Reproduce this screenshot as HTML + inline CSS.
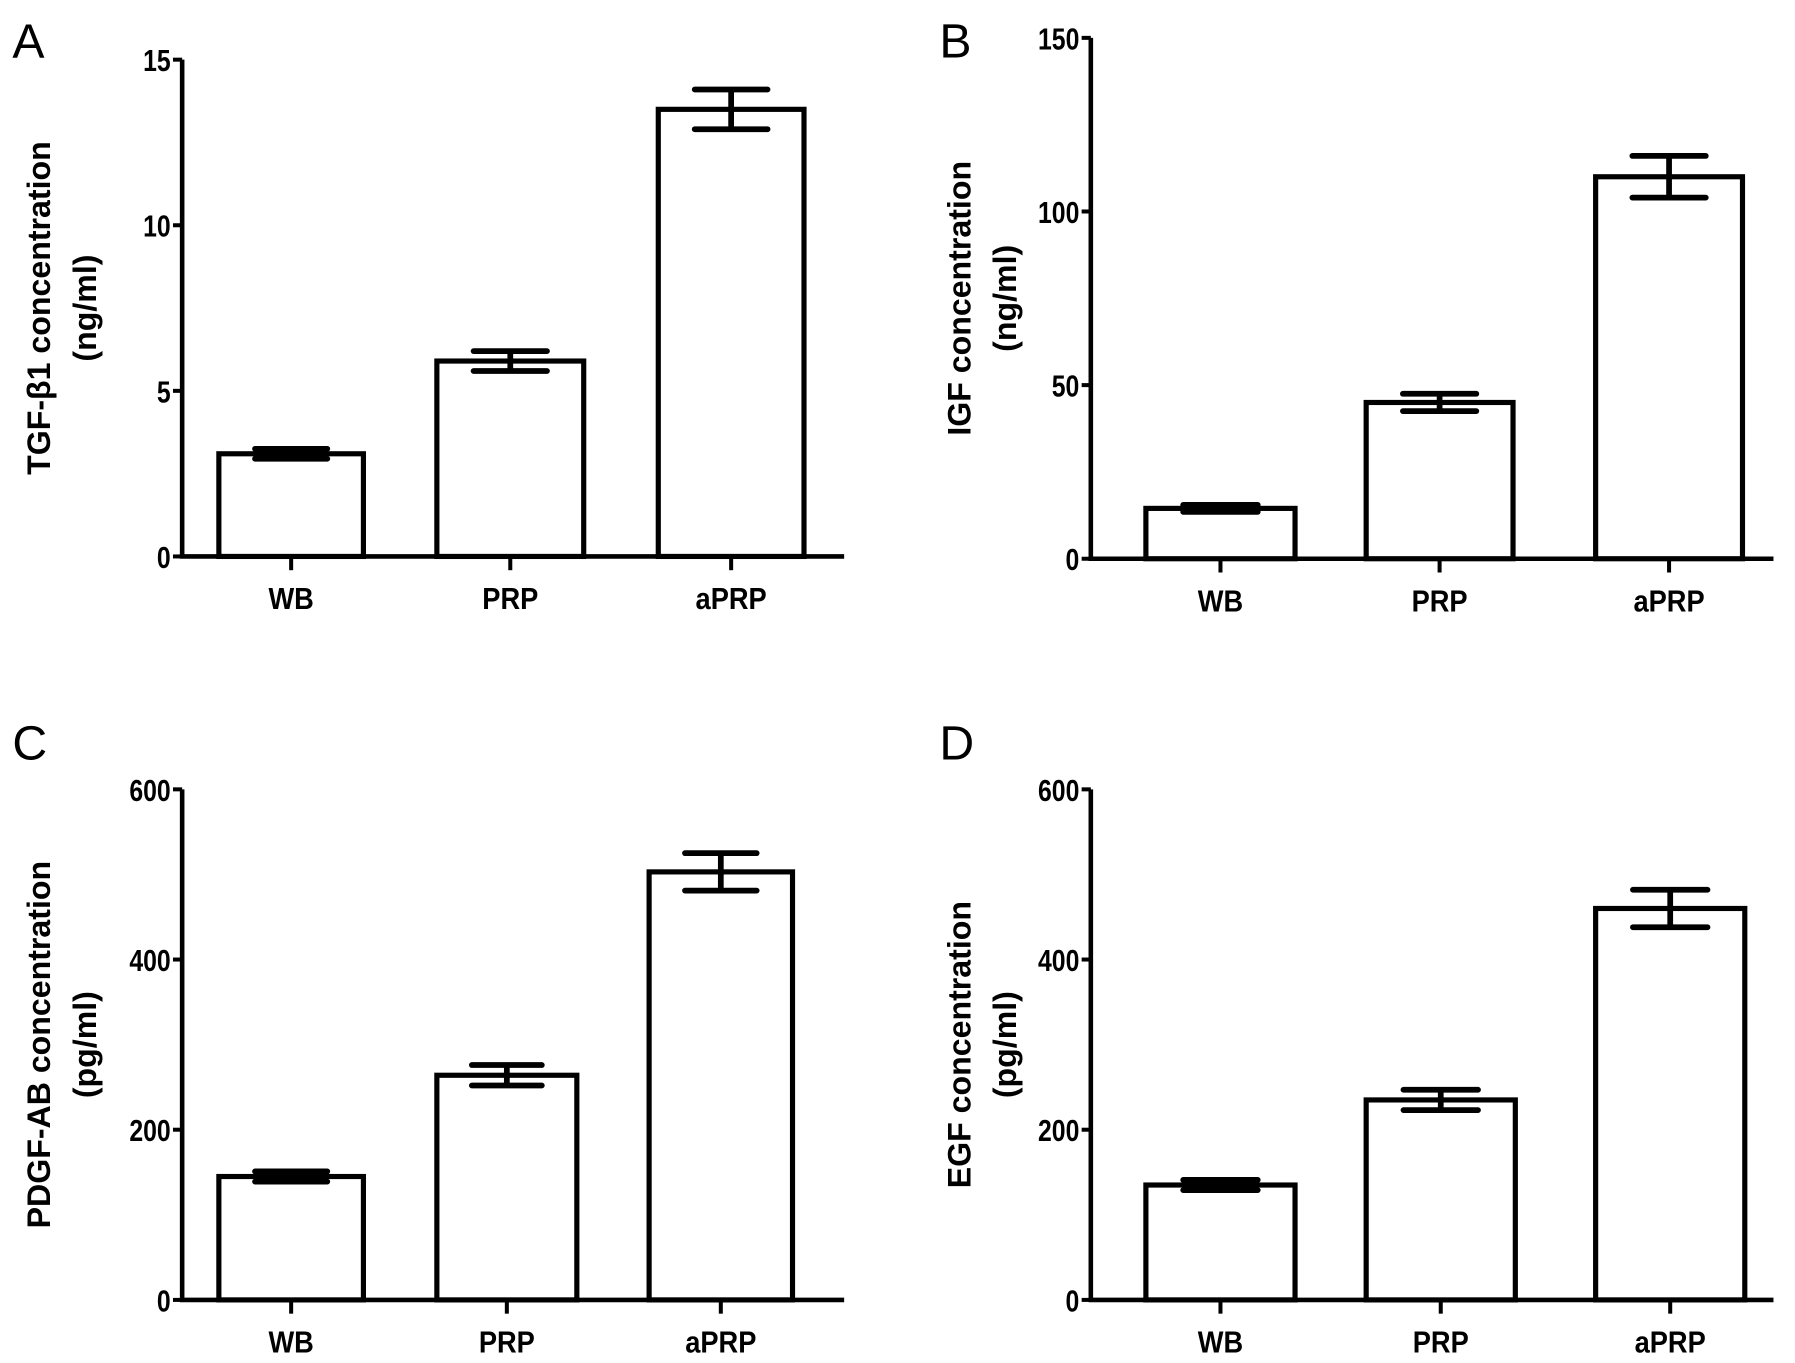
<!DOCTYPE html>
<html><head><meta charset="utf-8"><style>
html,body{margin:0;padding:0;background:#fff}
svg{display:block}
text{font-family:"Liberation Sans",sans-serif;fill:#000}
</style></head><body>
<svg id="fig" width="1795" height="1363" viewBox="0 0 1563 1188" xmlns="http://www.w3.org/2000/svg"></svg>
<script>
const categories = ["WB","PRP","aPRP"];
const tgfValues = [3.1, 5.9, 13.5];
const tgfErrors = [0.15, 0.3, 0.6];
const igfValues = [14.5, 45, 110];
const igfErrors = [1, 2.5, 6];
const pdgfValues = [145, 264, 503];
const pdgfErrors = [6, 12, 22];
const egfValues = [135, 235, 460];
const egfErrors = [6, 12, 22];
const tgfTicks = [0,5,10,15];
const igfTicks = [0,50,100,150];
const pdgfTicks = [0,200,400,600];
const egfTicks = [0,200,400,600];

const svg = document.getElementById('fig');
const NS = 'http://www.w3.org/2000/svg';
function mk(tag, attrs, parent){const e=document.createElementNS(NS,tag);for(const k in attrs)e.setAttribute(k,attrs[k]);(parent||svg).appendChild(e);return e;}

const panels = [
 {key:'a', letter:'A', lx:10, ly:50, ax:158, top:52, bottom:485, xend:735, max:15, ticks:tgfTicks, vals:tgfValues, errs:tgfErrors, bars:[[190,316],[380,508],[573,700]], t1:'TGF-β1 concentration', t2:'(ng/ml)', tx:33, tx2:75},
 {key:'b', letter:'B', lx:818, ly:50, ax:950, top:33, bottom:487, xend:1545, max:150, ticks:igfTicks, vals:igfValues, errs:igfErrors, bars:[[998,1128],[1190,1318],[1390,1518]], t1:'IGF concentration', t2:'(ng/ml)', tx:835, tx2:877},
 {key:'c', letter:'C', lx:10, ly:662, ax:158, top:688, bottom:1133, xend:735, max:600, ticks:pdgfTicks, vals:pdgfValues, errs:pdgfErrors, bars:[[190,316],[380,502],[565,690]], t1:'PDGF-AB concentration', t2:'(pg/ml)', tx:33, tx2:75},
 {key:'d', letter:'D', lx:818, ly:662, ax:950, top:688, bottom:1133, xend:1545, max:600, ticks:egfTicks, vals:egfValues, errs:egfErrors, bars:[[998,1128],[1190,1320],[1390,1520]], t1:'EGF concentration', t2:'(pg/ml)', tx:835, tx2:877}
];

panels.forEach(p=>{
  const g = mk('g',{});
  
  
  const y = v => p.bottom - (v/p.max)*(p.bottom-p.top);
  const L = mk('text',{x:p.lx,y:p.ly,'font-size':42},g); L.textContent=p.letter;
  
  
  p.vals.forEach((v,i)=>{
    const [x0,x1]=p.bars[i];
    const r = mk('rect',{x:x0,y:y(v),width:x1-x0,height:p.bottom-y(v),fill:'#fff',stroke:'#000','stroke-width':4.5},g);
    
    
    const cx=(x0+x1)/2, hw=(x1-x0)*0.25;
    const e = mk('path',{d:`M${cx},${y(v+p.errs[i])}V${y(v-p.errs[i])}M${cx-hw},${y(v+p.errs[i])}H${cx+hw}M${cx-hw},${y(v-p.errs[i])}H${cx+hw}`,stroke:'#000','stroke-width':5,'stroke-linecap':'round',fill:'none'},g);
    
    
  });
  const ya = mk('path',{d:`M${p.ax},${p.top}V${p.bottom}`,stroke:'#000','stroke-width':4,fill:'none'},g);
  
  
  const xa = mk('path',{d:`M${p.ax-2},${p.bottom}H${p.xend}`,stroke:'#000','stroke-width':4,fill:'none'},g);
  
  
  p.ticks.forEach(t=>{
    mk('path',{d:`M${p.ax-8},${y(t)}H${p.ax}`,stroke:'#000','stroke-width':3.5},g);
    const tl = mk('text',{x:p.ax-10,y:y(t)+10,'font-size':27,'font-weight':'bold','text-anchor':'end',transform:`translate(${p.ax-10},0) scale(0.8,1) translate(${-(p.ax-10)},0)`},g);
    tl.textContent=t;
    
    
  });
  categories.forEach((c,i)=>{
    const cx=(p.bars[i][0]+p.bars[i][1])/2;
    mk('path',{d:`M${cx},${p.bottom}V${p.bottom+12}`,stroke:'#000','stroke-width':3.5},g);
    const cl = mk('text',{x:cx,y:p.bottom+46,'font-size':27,'font-weight':'bold','text-anchor':'middle',transform:`translate(${cx},0) scale(0.88,1) translate(${-cx},0)`},g);
    cl.textContent=c;
    
    
  });
  const my=(p.top+p.bottom)/2;
  const t1 = mk('text',{x:p.tx+10,y:my,'font-size':28,'font-weight':'bold','text-anchor':'middle',transform:`rotate(-90 ${p.tx+10} ${my})`},g);
  t1.textContent=p.t1;
  
  
  const t2 = mk('text',{x:p.tx2+8,y:my,'font-size':28,'font-weight':'bold','text-anchor':'middle',transform:`rotate(-90 ${p.tx2+8} ${my})`},g);
  t2.textContent=p.t2;
  
  
});
</script>
</body></html>
